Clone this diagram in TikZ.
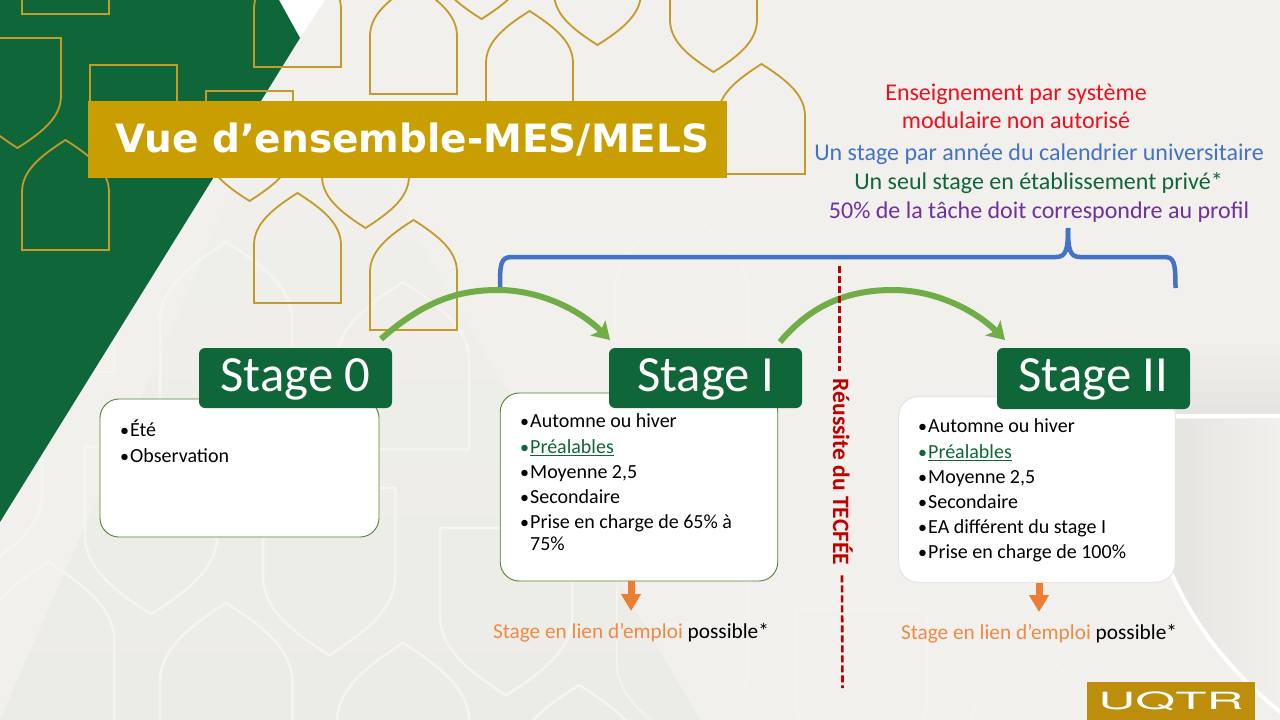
\documentclass[tikz,border=0pt]{standalone}
\usepackage{fontspec}
\setmainfont{Carlito}
\newfontfamily\titlefont{DejaVu Sans}
\newfontfamily\logofont{TeX Gyre Heros}
\usetikzlibrary{arrows.meta,calc}
\definecolor{bgtop}{HTML}{F1F0EC}
\definecolor{bgdark}{HTML}{ECECE7}
\definecolor{uqgreen}{HTML}{0F6638}
\definecolor{uqgold}{HTML}{C99E00}
\definecolor{logogold}{HTML}{BC8E0C}
\definecolor{lineg}{HTML}{C49A28}
\definecolor{faint}{HTML}{F5F4F1}
\definecolor{fainter}{HTML}{F3F2EF}
\definecolor{arcg}{HTML}{70AD47}
\definecolor{bluea}{HTML}{4472C4}
\definecolor{oran}{HTML}{ED7D31}
\definecolor{redd}{HTML}{C00000}
\definecolor{purp}{HTML}{7030A0}
\definecolor{redt}{HTML}{EE0F1F}
\definecolor{boxline}{HTML}{548235}
\newcommand\archup[4]{\draw[#4,shift={(#1,#2)},scale=#3] (0,110)--(0,52) .. controls (0,30) and (20,15) .. (43.5,0) .. controls (67,15) and (87,30) .. (87,52) -- (87,110) -- cycle;}
\newcommand\shieldown[4]{\draw[#4,shift={(#1,#2)},scale=#3] (0,0) -- (87,0) -- (87,58) .. controls (87,80) and (67,95) .. (43.5,110) .. controls (20,95) and (0,80) .. (0,58) -- cycle;}
\newcommand\li[2][black]{\makebox[10pt][l]{\textcolor{#1}{\scalebox{0.9}{•}}}#2}
\tikzset{
  goldline/.style={draw=lineg,line width=1.8pt},
  faintline/.style={draw=faint,line width=2.6pt},
  fainterline/.style={draw=fainter,line width=2pt},
  stagebox/.style={draw=boxline,line width=0.9pt,fill=white,rounded corners=19pt,inner sep=0pt},
  stagehead/.style={fill=uqgreen,rounded corners=6pt,minimum width=193pt,minimum height=60pt,inner sep=0pt,text=white,text height=36pt,text depth=10pt,font=\fontsize{50.7}{54}\selectfont},
  listtext/.style={anchor=north west,align=left,inner sep=0pt,font=\fontsize{20}{22}\selectfont},
  rule/.style={align=center,inner sep=0pt,font=\fontsize{24}{26}\selectfont},
  jobtext/.style={inner sep=0pt,anchor=north,font=\fontsize{21.3}{24}\selectfont,text height=27pt,text depth=5pt},
  arcarrow/.style={draw=arcg,line width=6pt,-{Stealth[length=17pt,width=21pt,inset=4pt]}},
  jobarrow/.style={draw=oran,line width=7pt,-{Triangle[length=17pt,width=19pt]}},
  tecfe/.style={draw=redd,line width=2.6pt,dash pattern=on 7pt off 3pt},
}
\begin{document}
\begin{tikzpicture}[x=1pt,y=-1pt]
\useasboundingbox (0,0) rectangle (1280,720);
\clip (0,0) rectangle (1280,720);
% background
\fill[bgtop] (0,0) rectangle (1280,720);
\shade[top color=bgtop,bottom color=bgdark] (300,38) -- (700,720) -- (0,720) -- cycle;
\fill[white] (279,0) -- (325,0) -- (300,38) -- cycle;
% lower-right soft band
\shade[top color=bgtop,bottom color=black!5!bgtop] (1176,340) rectangle (1280,413);
\shade[left color=black!6!bgtop,right color=bgtop] (1176,419) -- (1280,419) -- (1280,713) .. controls (1215,660) and (1165,590) .. (1150,500) -- cycle;
% faint shapes
\archup{160}{242}{1.52}{faintline}
\archup{337}{282}{1.52}{faintline}
\archup{-18}{205}{1.52}{faintline}
\shieldown{-90}{405}{1.52}{faintline}
\shieldown{85}{447}{1.52}{faintline}
\shieldown{263}{488}{1.52}{faintline}
\archup{-18}{562}{1.52}{faintline}
\archup{160}{603}{1.52}{faintline}
\archup{337}{643}{1.52}{faintline}
\shieldown{440}{528}{1.52}{faintline}
\archup{513}{685}{1.52}{faintline}
\shieldown{617}{575}{1.52}{fainterline}
\archup{615}{210}{1.52}{fainterline}
\shieldown{795}{610}{1.52}{fainterline}
\archup{970}{652}{1.52}{fainterline}
% white large curve
\draw[white,line width=4pt] (1170,416) -- (1280,416);
\draw[white,line width=4pt] (1150,500) .. controls (1165,590) and (1215,660) .. (1285,716);
% green triangle
\fill[uqgreen] (0,0) -- (279,0) -- (300,38) -- (0,522) -- cycle;
% gold shapes
\archup{22}{-96}{1}{goldline}
\shieldown{-26}{38}{1}{goldline}
\shieldown{90}{65}{1}{goldline}
\shieldown{206}{91}{1}{goldline}
\archup{22}{140}{1}{goldline}
\archup{254}{-43}{1}{goldline}
\archup{370}{-16}{1}{goldline}
\shieldown{322}{118}{1}{goldline}
\archup{254}{193}{1}{goldline}
\archup{370}{220}{1}{goldline}
\archup{486}{11}{1}{goldline}
\shieldown{554}{-65}{1}{goldline}
\shieldown{670}{-38}{1}{goldline}
\shieldown{438}{-91}{1}{goldline}
\archup{718}{64}{1}{goldline}
% title
\node (title) [fill=uqgold,minimum width=639pt,minimum height=77pt,inner sep=0pt,text=white,font=\titlefont\bfseries\fontsize{39}{44}\selectfont] at (407.5,139.5) {\hspace*{10pt}Vue d’ensemble-MES/MELS};
% rules
\node (r1) [rule,text=redt] at (1016,106) {Enseignement par système\\[2pt]modulaire non autorisé};
\node (r2) [rule,text=bluea] at (1039,154) {Un stage par année du calendrier universitaire};
\node (r3) [rule,text=uqgreen] at (1038.5,183) {Un seul stage en établissement privé*};
\node (r4) [rule,text=purp] at (1039,212) {50\% de la tâche doit correspondre au profil};
% brace
\coordinate (bl) at (500,288);
\coordinate (bn) at (1068,228);
\coordinate (br) at (1175.5,288);
\draw[bluea,line width=4.5pt] (bl) .. controls (500,265) and (500,257) .. (512,257) -- (1056,257) .. controls (1066,257) and (1068,250) .. (bn);
\draw[bluea,line width=4.5pt] (bn) .. controls (1068,250) and (1070,257) .. (1080,257) -- (1164,257) .. controls (1174,257) and (br|-0,262) .. (br);
% boxes
\node (b0) [stagebox,minimum width=279pt,minimum height=138pt] at (239.5,468) {};
\node (b1) [stagebox,minimum width=277.5pt,minimum height=188pt] at (639,487) {};
\node (b2) [stagebox,draw=black!12,minimum width=276.5pt,minimum height=185.5pt] at (1037,489.5) {};
\node (h0) [stagehead] at (295.5,378) {Stage 0};
\node (h1) [stagehead] at (705.5,378) {Stage I};
\node (h2) [stagehead,minimum height=61pt] at (1093.5,378.5) {Stage II};
% lists
\node (l0) [listtext] at (120,420) {\li{Été}\\[4pt]\li{Observation}};
\node (l1) [listtext] at (520,413.5) {\li{Automne ou hiver}\\[3.6pt]\li[uqgreen]{\textcolor{uqgreen}{\underline{Préalables}}}\\[3pt]\li{Moyenne 2,5}\\[3pt]\li{Secondaire}\\[3pt]\li{Prise en charge de 65\% à}\\\hspace*{10pt}75\%};
\node (l2) [listtext] at (918,418.5) {\li{Automne ou hiver}\\[3.6pt]\li[uqgreen]{\textcolor{uqgreen}{\underline{Préalables}}}\\[3pt]\li{Moyenne 2,5}\\[3pt]\li{Secondaire}\\[3pt]\li{EA différent du stage I}\\[3pt]\li{Prise en charge de 100\%}};
% green arcs
\coordinate (a0s) at (381,339);
\coordinate (a0e) at (610,340);
\coordinate (a1s) at (780,342);
\coordinate (a1e) at (1005,340);
\draw[arcarrow] (a0s) .. controls (425,300) and (460,290) .. (498,290) .. controls (540,290) and (580,310) .. (a0e);
\draw[arcarrow] (a1s) .. controls (815,300) and (855,290) .. (893,290) .. controls (935,290) and (975,310) .. (a1e);
% TECFEE
\node (tec) [rotate=-90,inner sep=0pt,text=redd,font=\bfseries\fontsize{23.5}{26}\selectfont] at (843,472) {Réussite du TECFÉE};
\coordinate (dt) at (839.5,266);
\coordinate (db) at (842.5,688);
\draw[tecfe] (dt) -- ($(tec.west)+(-3.5,-8)$);
\draw[tecfe] ($(tec.east)+(-1,10)$) -- (db);
% employment
\node (j1) [jobtext] at (631,611) {\textcolor{oran!90!white}{Stage en lien d’emploi} possible*};
\node (j2) [jobtext] at (1039,612) {\textcolor{oran!90!white}{Stage en lien d’emploi} possible*};
\draw[jobarrow] (j1.north|-b1.south) -- (j1.north);
\draw[jobarrow] (j2.north|-b2.south) -- (j2.north);
% logo
\node (logo) [fill=logogold,minimum width=168pt,minimum height=38pt,inner sep=0pt,text=white] at (1171,701) {\scalebox{2.05}[0.95]{\logofont\fontsize{25}{28}\selectfont UQTR}};
\end{tikzpicture}
\end{document}
